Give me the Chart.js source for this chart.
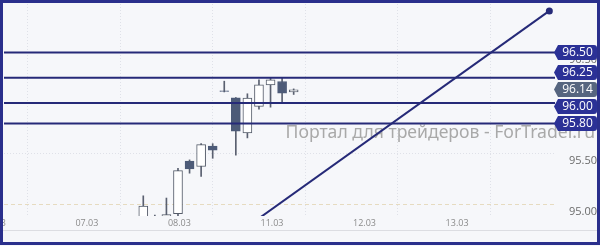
<!DOCTYPE html>
<html>
<head>
<meta charset="utf-8">
<script src="https://cdn.jsdelivr.net/npm/chart.js@4"></script>
<style>
  html, body { margin: 0; padding: 0; background: #f6f7fa; }
  #wrap { width: 600px; height: 246px; }
</style>
</head>
<body>
<div id="wrap"><canvas id="chart" width="600" height="246"></canvas></div>
<script>
/* ── DATA ─────────────────────────────────────────────── */
// x = bar index (3-hour bars, 8 per day, 07.03 00:00 = 0)
const barX   = [6, 7, 8, 9, 10, 11, 12, 13, 14, 15, 16, 17, 18, 19];
const opens  = [94.80, 94.80, 94.80, 94.91, 95.429, 95.375, 95.576, 96.122, 96.053, 95.706, 95.968, 96.18, 96.213, 96.11];
const highs  = [95.086, 94.895, 95.064, 95.357, 95.44, 95.60, 95.60, 96.216, 96.055, 96.092, 96.23, 96.245, 96.25, 96.14];
const lows   = [94.75, 94.65, 94.78, 94.89, 95.309, 95.277, 95.456, 96.11, 95.487, 95.657, 95.94, 95.96, 96.00, 96.085];
const closes = [94.985, 94.70, 94.90, 95.335, 95.351, 95.590, 95.537, 96.114, 95.723, 96.049, 96.180, 96.23, 96.098, 96.131];

const levels      = [96.50, 96.25, 96.00, 95.80];
const lastPrice   = 96.14;
const trendX      = [16, 41.1];
const trendY      = [94.864, 96.909];

const dayTicks    = [-8, 0, 8, 16, 24, 32];
const dayLabels   = ['06.03', '07.03', '08.03', '11.03', '12.03', '13.03'];
const priceTicks  = [95.00, 95.50, 96.00, 96.50];

const X_MIN = -6.04, X_MAX = 41.59;
const Y_MIN = 94.887, Y_MAX = 96.977;

const WATERMARK = 'Портал для трейдеров - ForTrader.ru';

/* ── COLOURS ──────────────────────────────────────────── */
const BG        = '#f6f7fa';
const FRAME     = '#2a2f8c';
const LEVEL     = '#262a78';
const BOX       = '#2b3196';
const BOX_GRAY  = '#56657f';
const BEAR      = '#4d5b78';
const BULL_EDGE = '#555c6a';
const WICK      = '#5a6070';

const bull = opens.map((o, i) => closes[i] >= o);

/* ── PLUGINS ──────────────────────────────────────────── */
const background = {
  id: 'background',
  beforeDraw(c) {
    const ctx = c.ctx;
    ctx.save();
    ctx.fillStyle = BG;
    ctx.fillRect(0, 0, c.width, c.height);
    ctx.restore();
  }
};

const watermark = {
  id: 'watermark',
  beforeDatasetsDraw(c) {
    const ctx = c.ctx;
    ctx.save();
    ctx.font = '17.6px "Noto Sans"';
    ctx.fillStyle = '#a9a9a9';
    ctx.textBaseline = 'alphabetic';
    ctx.textAlign = 'right';
    ctx.fillText(WATERMARK, 595, 138);
    ctx.restore();
  }
};

// push price boxes apart so they don't overlap
function spreadLabels(items, gap) {
  let groups = items.map(it => ({ items: [it], mean: it.y0 }));
  const start = g => g.mean - (g.items.length - 1) * gap / 2;
  let merged = true;
  while (merged) {
    merged = false;
    for (let i = 0; i < groups.length - 1; i++) {
      const a = groups[i], b = groups[i + 1];
      const aEnd = start(a) + (a.items.length - 1) * gap;
      if (start(b) - aEnd < gap) {
        const all = a.items.concat(b.items);
        groups.splice(i, 2, { items: all, mean: all.reduce((s, o) => s + o.y0, 0) / all.length });
        merged = true;
        break;
      }
    }
  }
  groups.forEach(g => g.items.forEach((it, k) => it.y = start(g) + k * gap));
}

const priceBoxes = {
  id: 'priceBoxes',
  afterDraw(c) {
    const ctx = c.ctx, ys = c.scales.y;
    const items = levels.map(v => ({ v, color: BOX }))
      .concat([{ v: lastPrice, color: BOX_GRAY }])
      .map(it => ({ ...it, y0: ys.getPixelForValue(it.v) }))
      .sort((a, b) => a.y0 - b.y0);
    spreadLabels(items, 17);
    const x0 = c.chartArea.right + 1, x1 = 597, h = 15;
    ctx.save();
    ctx.font = '12px "Open Sans"';
    ctx.textAlign = 'center';
    ctx.textBaseline = 'middle';
    items.forEach(it => {
      const top = Math.round(it.y - h / 2);
      ctx.fillStyle = it.color;
      ctx.beginPath();
      ctx.moveTo(x0 - 2, top + h / 2);
      ctx.lineTo(x0 + 2, top);
      ctx.lineTo(x1 - 3, top);
      ctx.quadraticCurveTo(x1, top, x1, top + 3);
      ctx.lineTo(x1, top + h - 3);
      ctx.quadraticCurveTo(x1, top + h, x1 - 3, top + h);
      ctx.lineTo(x0 + 2, top + h);
      ctx.closePath();
      ctx.fill();
      ctx.fillStyle = '#ffffff';
      ctx.fillText(it.v.toFixed(2), (x0 + x1) / 2 + 1, top + h / 2 + 0.5);
    });
    ctx.restore();
  }
};

const frame = {
  id: 'frame',
  afterDraw(c) {
    const ctx = c.ctx;
    ctx.save();
    ctx.strokeStyle = '#dcdde2';
    ctx.lineWidth = 1;
    ctx.beginPath();
    ctx.moveTo(3, 230.5);
    ctx.lineTo(597, 230.5);
    ctx.stroke();
    ctx.strokeStyle = FRAME;
    ctx.lineWidth = 3;
    ctx.strokeRect(1.5, 1.5, c.width - 3, c.height - 4);
    ctx.restore();
  }
};

/* ── DATASETS ─────────────────────────────────────────── */
const bodies = {
  type: 'bar',
  order: 1,
  data: barX.map((x, i) => ({ x, y: [opens[i], closes[i]] })),
  backgroundColor: bull.map(b => b ? '#ffffff' : BEAR),
  borderColor: bull.map(b => b ? BULL_EDGE : BEAR),
  borderWidth: 1,
  borderSkipped: false,
  barThickness: 9,
  grouped: false
};

const wicks = {
  type: 'bar',
  order: 2,
  data: barX.map((x, i) => ({ x, y: [lows[i], highs[i]] })),
  backgroundColor: WICK,
  borderWidth: 0,
  barThickness: 1,
  grouped: false
};

const levelSets = levels.map(v => ({
  type: 'line',
  order: -1,
  data: [{ x: X_MIN, y: v }, { x: X_MAX, y: v }],
  borderColor: LEVEL,
  borderWidth: 2,
  pointRadius: 0
}));

const trend = {
  type: 'line',
  order: -2,
  data: trendX.map((x, i) => ({ x, y: trendY[i] })),
  borderColor: LEVEL,
  borderWidth: 2,
  pointRadius: [0, 3.5],
  pointBackgroundColor: LEVEL,
  pointBorderWidth: 0
};

const isZero = ctx => ctx.tick && ctx.tick.value === 95;

/* ── CHART ────────────────────────────────────────────── */
new Chart(document.getElementById('chart'), {
  type: 'bar',
  data: { datasets: [bodies, wicks, ...levelSets, trend] },
  plugins: [background, watermark, priceBoxes, frame],
  options: {
    responsive: false,
    animation: false,
    devicePixelRatio: 1,
    layout: { padding: { left: 3, top: 3, right: 3, bottom: 16 } },
    plugins: { legend: { display: false }, tooltip: { enabled: false } },
    scales: {
      x: {
        type: 'linear',
        offset: false,
        min: X_MIN,
        max: X_MAX,
        afterBuildTicks: s => { s.ticks = dayTicks.map(v => ({ value: v })); },
        afterFit: s => { s.height = 14; s.paddingLeft = 0; s.paddingRight = 0; },
        border: { display: false, dash: [1, 2] },
        grid: { color: '#dfe1e8', drawTicks: false },
        ticks: {
          autoSkip: false,
          maxRotation: 0,
          padding: 2,
          labelOffset: 13,
          color: '#8b8b8b',
          font: { family: 'Open Sans', size: 9 },
          callback: v => dayLabels[dayTicks.indexOf(v)]
        }
      },
      y: {
        position: 'right',
        min: Y_MIN,
        max: Y_MAX,
        afterBuildTicks: s => { s.ticks = priceTicks.map(v => ({ value: v })); },
        afterFit: s => { s.width = 42; s.paddingTop = 0; s.paddingBottom = 0; },
        border: {
          display: false,
          dash: ctx => isZero(ctx) ? [4, 3] : [1, 2]
        },
        grid: {
          drawTicks: false,
          color: ctx => isZero(ctx) ? '#e6dbc0' : '#dfe1e8'
        },
        ticks: {
          crossAlign: 'far',
          padding: 4,
          labelOffset: 7,
          color: '#6b6b6b',
          font: { family: 'Open Sans', size: 11 },
          callback: v => v.toFixed(2)
        }
      }
    }
  }
});
</script>
</body>
</html>
